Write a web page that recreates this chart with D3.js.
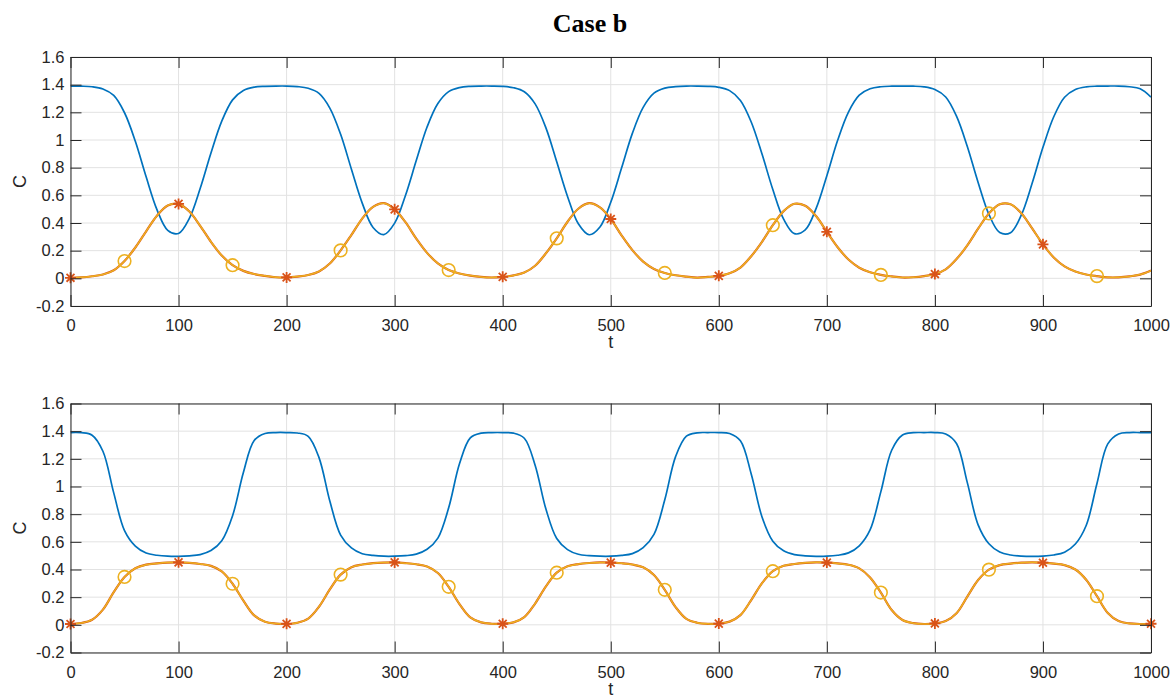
<!DOCTYPE html>
<html>
<head>
<meta charset="utf-8">
<script src="https://cdn.jsdelivr.net/npm/d3@7"></script>
<style>
  body { margin: 0; background: #fff; }
  .tick text { font-family: "Liberation Sans", Arial, Helvetica, sans-serif; font-size: 16.5px; fill: #262626; }
</style>
</head>
<body>
<script>
// time grid (every 10 units) and axis ticks
var tValues = d3.range(0, 1001, 10);
var xTicks = [0, 100, 200, 300, 400, 500, 600, 700, 800, 900, 1000];
var yTicks = [-0.2, 0, 0.2, 0.4, 0.6, 0.8, 1, 1.2, 1.4, 1.6];

// top panel
var topBlue = [1.39, 1.389, 1.385, 1.369, 1.322, 1.197, 0.991, 0.734, 0.497, 0.347,
  0.324, 0.433, 0.649, 0.906, 1.136, 1.29, 1.358, 1.382, 1.388, 1.39,
  1.39, 1.386, 1.374, 1.337, 1.231, 1.041, 0.789, 0.544, 0.368, 0.316,
  0.399, 0.599, 0.851, 1.094, 1.264, 1.35, 1.379, 1.388, 1.39, 1.39,
  1.388, 1.378, 1.349, 1.261, 1.088, 0.843, 0.592, 0.394, 0.315, 0.371,
  0.55, 0.797, 1.048, 1.236, 1.339, 1.375, 1.386, 1.39, 1.39, 1.388,
  1.381, 1.357, 1.286, 1.13, 0.898, 0.642, 0.428, 0.323, 0.35, 0.504,
  0.742, 0.998, 1.202, 1.324, 1.37, 1.385, 1.389, 1.39, 1.389, 1.384,
  1.365, 1.311, 1.172, 0.953, 0.693, 0.462, 0.331, 0.33, 0.458, 0.687,
  0.947, 1.168, 1.309, 1.365, 1.384, 1.389, 1.39, 1.39, 1.385, 1.37,
  1.31];
var topOrange = [0.004, 0.007, 0.015, 0.028, 0.058, 0.125, 0.223, 0.34, 0.453, 0.527,
  0.538, 0.483, 0.38, 0.264, 0.165, 0.095, 0.054, 0.031, 0.018, 0.008,
  0.0065, 0.013, 0.024, 0.05, 0.107, 0.202, 0.314, 0.432, 0.516, 0.543,
  0.499, 0.406, 0.287, 0.184, 0.108, 0.06, 0.035, 0.02, 0.01, 0.006,
  0.011, 0.021, 0.042, 0.091, 0.181, 0.289, 0.409, 0.503, 0.543, 0.513,
  0.429, 0.311, 0.204, 0.121, 0.068, 0.039, 0.022, 0.012, 0.005, 0.01,
  0.018, 0.037, 0.078, 0.16, 0.264, 0.384, 0.486, 0.539, 0.524, 0.45,
  0.336, 0.225, 0.136, 0.077, 0.044, 0.025, 0.014, 0.006, 0.008, 0.016,
  0.031, 0.065, 0.139, 0.239, 0.359, 0.469, 0.535, 0.535, 0.471, 0.361,
  0.246, 0.151, 0.086, 0.049, 0.028, 0.016, 0.007, 0.007, 0.014, 0.027,
  0.056];
var topYellow = topOrange.slice();
var topStarT = [0, 100, 200, 300, 400, 500, 600, 700, 800, 900];
var topCircleT = [50, 150, 250, 350, 450, 550, 650, 750, 850, 950];

// bottom panel
var botBlue = [1.39, 1.389, 1.371, 1.255, 0.954, 0.681, 0.569, 0.519, 0.503, 0.496,
  0.495, 0.499, 0.508, 0.537, 0.608, 0.789, 1.101, 1.333, 1.383, 1.39,
  1.39, 1.387, 1.363, 1.209, 0.895, 0.649, 0.556, 0.514, 0.502, 0.496,
  0.496, 0.5, 0.511, 0.546, 0.627, 0.846, 1.164, 1.352, 1.386, 1.39,
  1.39, 1.386, 1.349, 1.154, 0.837, 0.624, 0.544, 0.51, 0.5, 0.496,
  0.496, 0.502, 0.515, 0.558, 0.654, 0.904, 1.216, 1.364, 1.388, 1.39,
  1.39, 1.383, 1.33, 1.091, 0.78, 0.605, 0.535, 0.508, 0.499, 0.495,
  0.496, 0.503, 0.52, 0.571, 0.686, 0.963, 1.262, 1.372, 1.389, 1.39,
  1.39, 1.38, 1.311, 1.028, 0.723, 0.586, 0.526, 0.505, 0.497, 0.495,
  0.497, 0.505, 0.525, 0.584, 0.718, 1.022, 1.308, 1.38, 1.39, 1.39,
  1.389];
var botOrange = [0.006, 0.013, 0.037, 0.11, 0.236, 0.346, 0.409, 0.435, 0.444, 0.45,
  0.452, 0.448, 0.44, 0.426, 0.386, 0.297, 0.175, 0.068, 0.022, 0.009,
  0.007, 0.015, 0.045, 0.131, 0.256, 0.363, 0.417, 0.436, 0.446, 0.45,
  0.451, 0.446, 0.438, 0.422, 0.375, 0.275, 0.15, 0.054, 0.018, 0.008,
  0.008, 0.018, 0.056, 0.154, 0.278, 0.377, 0.423, 0.439, 0.447, 0.451,
  0.45, 0.445, 0.436, 0.416, 0.36, 0.253, 0.128, 0.043, 0.015, 0.007,
  0.009, 0.023, 0.07, 0.179, 0.301, 0.388, 0.427, 0.44, 0.448, 0.452,
  0.45, 0.444, 0.434, 0.408, 0.343, 0.233, 0.107, 0.035, 0.012, 0.006,
  0.01, 0.027, 0.084, 0.204, 0.324, 0.399, 0.432, 0.443, 0.449, 0.452,
  0.449, 0.443, 0.432, 0.4, 0.326, 0.207, 0.086, 0.027, 0.01, 0.006,
  0.008];
var botYellow = botOrange.slice();
var botStarT = [0, 100, 200, 300, 400, 500, 600, 700, 800, 900, 1000];
var botCircleT = [50, 150, 250, 350, 450, 550, 650, 750, 850, 950];

var colBlue = "#0072BD", colOrange = "#D95319", colYellow = "#EDB120";
var axisColor = "#262626", gridColor = "#e2e2e2";

var width = 1174, height = 700;
var svg = d3.select("body").append("svg")
    .attr("width", width)
    .attr("height", height);

// figure title
svg.append("text")
    .attr("x", 590)
    .attr("y", 32)
    .attr("text-anchor", "middle")
    .style("font-family", "'Palatino Linotype', Palatino, 'Book Antiqua', 'Liberation Serif', serif")
    .style("font-weight", "bold")
    .style("font-size", "26px")
    .style("fill", "#000")
    .text("Case b");

// plain tick labels: "-0.2", "1000"
var fmt = function (d) { return String(+(+d).toFixed(1)); };

function drawPanel(id, top, blue, orange, yellow, starT, circleT) {
    var left = 70.5, right = 1151, h = 249;

    var x = d3.scaleLinear().domain([0, 1000]).range([left, right]);
    var y = d3.scaleLinear().domain([-0.2, 1.6]).range([top + h, top]);

    var g = svg.append("g");

    // grid
    g.selectAll(".gx").data(xTicks).enter().append("line")
        .attr("x1", function (d) { return x(d); })
        .attr("x2", function (d) { return x(d); })
        .attr("y1", top).attr("y2", top + h)
        .style("stroke", gridColor).style("stroke-width", 1);
    g.selectAll(".gy").data(yTicks).enter().append("line")
        .attr("y1", function (d) { return y(d); })
        .attr("y2", function (d) { return y(d); })
        .attr("x1", left).attr("x2", right)
        .style("stroke", gridColor).style("stroke-width", 1);

    svg.append("clipPath").attr("id", id)
        .append("rect")
        .attr("x", left).attr("y", top)
        .attr("width", right - left).attr("height", h);

    var plot = g.append("g").attr("clip-path", "url(#" + id + ")");

    var line = function (vals) {
        return d3.line()
            .x(function (d, i) { return x(tValues[i]); })
            .y(function (d) { return y(d); })
            .curve(d3.curveCatmullRom.alpha(0.5))(vals);
    };

    plot.append("path").attr("d", line(blue))
        .style("fill", "none").style("stroke", colBlue).style("stroke-width", 1.7);
    plot.append("path").attr("d", line(orange))
        .style("fill", "none").style("stroke", colOrange).style("stroke-width", 2.2);
    plot.append("path").attr("d", line(yellow))
        .style("fill", "none").style("stroke", colYellow).style("stroke-width", 1.5);

    var valueAt = function (vals, t) { return vals[tValues.indexOf(t)]; };

    // asterisk markers
    var s = 5.5, sd = s * 0.72;
    var starPath = "M" + (-s) + ",0L" + s + ",0M0," + (-s) + "L0," + s +
        "M" + (-sd) + "," + (-sd) + "L" + sd + "," + sd +
        "M" + (-sd) + "," + sd + "L" + sd + "," + (-sd);
    g.selectAll(".star").data(starT).enter().append("path")
        .attr("d", starPath)
        .attr("transform", function (d) { return "translate(" + x(d) + "," + y(valueAt(orange, d)) + ")"; })
        .style("fill", "none").style("stroke", colOrange).style("stroke-width", 1.8);

    // circle markers
    g.selectAll(".circ").data(circleT).enter().append("circle")
        .attr("cx", function (d) { return x(d); })
        .attr("cy", function (d) { return y(valueAt(yellow, d)); })
        .attr("r", 6.3)
        .style("fill", "none").style("stroke", colYellow).style("stroke-width", 1.6);

    // axes with inward ticks on all four sides
    var bottomAxis = g.append("g")
        .attr("transform", "translate(0," + (top + h) + ")")
        .call(d3.axisBottom(x).tickValues(xTicks).tickSize(-11).tickSizeOuter(0).tickFormat(fmt));
    bottomAxis.selectAll("text").attr("dy", null).attr("y", 25);

    g.append("g")
        .attr("transform", "translate(0," + top + ")")
        .call(d3.axisTop(x).tickValues(xTicks).tickSize(-11).tickSizeOuter(0).tickFormat(""));

    g.append("g")
        .attr("transform", "translate(" + left + ",0)")
        .call(d3.axisLeft(y).tickValues(yTicks).tickSize(-11).tickSizeOuter(0).tickPadding(6).tickFormat(fmt));

    g.append("g")
        .attr("transform", "translate(" + right + ",0)")
        .call(d3.axisRight(y).tickValues(yTicks).tickSize(-11).tickSizeOuter(0).tickFormat(""));

    g.selectAll(".domain, .tick line").style("stroke", axisColor).style("stroke-width", 1);

    // axis labels
    g.append("text")
        .attr("transform", "translate(26," + (top + h / 2) + ") rotate(-90)")
        .attr("text-anchor", "middle")
        .style("font-family", "'Liberation Sans', Arial, sans-serif")
        .style("font-size", "18px")
        .style("fill", axisColor)
        .text("C");

    g.append("text")
        .attr("x", (left + right) / 2)
        .attr("y", top + h + 42)
        .attr("text-anchor", "middle")
        .style("font-family", "'Liberation Sans', Arial, sans-serif")
        .style("font-size", "18px")
        .style("fill", axisColor)
        .text("t");
}

drawPanel("clipTop", 57, topBlue, topOrange, topYellow, topStarT, topCircleT);
drawPanel("clipBot", 403.5, botBlue, botOrange, botYellow, botStarT, botCircleT);
</script>
</body>
</html>
